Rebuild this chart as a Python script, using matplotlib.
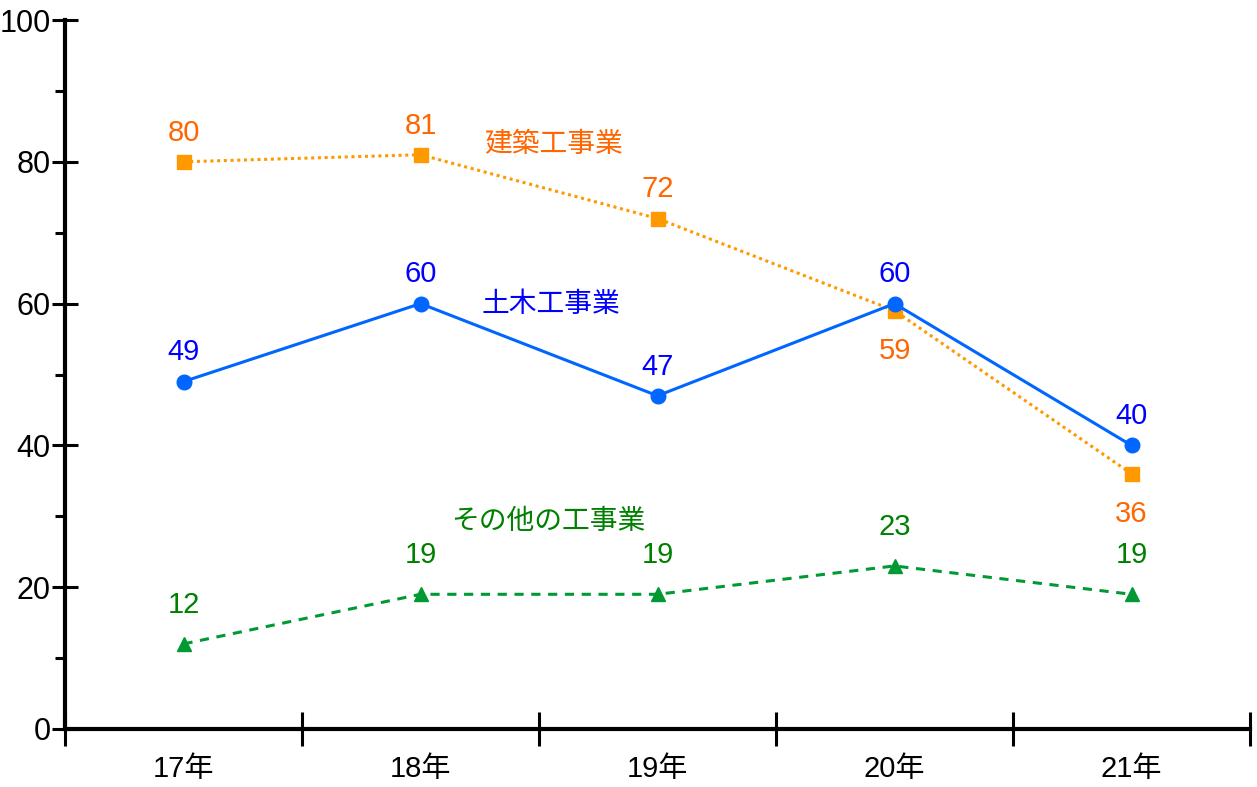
import matplotlib
matplotlib.use('Agg')
import matplotlib.pyplot as plt
from matplotlib.ticker import FixedLocator

plt.rcParams['font.family'] = ['Liberation Sans', 'Noto Sans CJK JP']

years = ['17年', '18年', '19年', '20年', '21年']
kenchiku = [80, 81, 72, 59, 36]
doboku = [49, 60, 47, 60, 40]
sonota = [12, 19, 19, 23, 19]

x = list(range(len(years)))

fig = plt.figure(figsize=(12.57, 7.87), dpi=100)
ax = fig.add_axes([65 / 1257, 1 - 729 / 787, 1185 / 1257, 709 / 787])

ax.plot(x, kenchiku, color='#FF9900', linestyle=(0, (1, 1.2)), linewidth=2.2,
        marker='s', markersize=10, clip_on=False)
ax.plot(x, doboku, color='#0066FF', linestyle='-', linewidth=2.2,
        marker='o', markersize=10.5, clip_on=False)
ax.plot(x, sonota, color='#009933', linestyle=(0, (3, 2.5)), linewidth=2.2,
        marker='^', markersize=10, clip_on=False)

# data labels
for i, v in enumerate(kenchiku):
    if i >= 3:
        ax.annotate(str(v), (i, v), xytext=(0, -29), textcoords='offset points',
                    ha='center', va='center', fontsize=21, color='#FF6600')
    else:
        ax.annotate(str(v), (i, v), xytext=(0, 21), textcoords='offset points',
                    ha='center', va='center', fontsize=21, color='#FF6600')
for i, v in enumerate(doboku):
    ax.annotate(str(v), (i, v), xytext=(0, 21), textcoords='offset points',
                ha='center', va='center', fontsize=21, color='#0000FF')
for i, v in enumerate(sonota):
    ax.annotate(str(v), (i, v), xytext=(0, 28), textcoords='offset points',
                ha='center', va='center', fontsize=21, color='#008000')

# series names
ax.text(1.56, 82.4, '建築工事業', fontsize=20, color='#FF6600', ha='center', va='center')
ax.text(1.55, 59.8, '土木工事業', fontsize=20, color='#0000FF', ha='center', va='center')
ax.text(1.54, 29.2, 'その他の工事業', fontsize=20, color='#008000', ha='center', va='center')

ax.set_xlim(-0.5, 4.5)
ax.set_ylim(0, 100)

ax.spines['top'].set_visible(False)
ax.spines['right'].set_visible(False)
ax.spines['left'].set_linewidth(3)
ax.spines['bottom'].set_linewidth(3)

ax.set_yticks([0, 20, 40, 60, 80, 100])
ax.yaxis.set_minor_locator(FixedLocator([10, 30, 50, 70, 90]))
ax.tick_params(axis='y', which='major', direction='inout', length=19, width=2.2,
               labelsize=22, pad=1)
ax.tick_params(axis='y', which='minor', direction='out', length=7, width=2.2)

ax.set_xticks([-0.5, 0.5, 1.5, 2.5, 3.5, 4.5])
ax.set_xticklabels([''] * 6)
ax.xaxis.set_minor_locator(FixedLocator(x))
ax.set_xticks(x, minor=True)
ax.set_xticklabels(years, minor=True)
ax.tick_params(axis='x', which='major', direction='inout', length=25, width=2.2)
ax.tick_params(axis='x', which='minor', length=0, labelsize=21, pad=19)

fig.savefig('out.png', dpi=100)
